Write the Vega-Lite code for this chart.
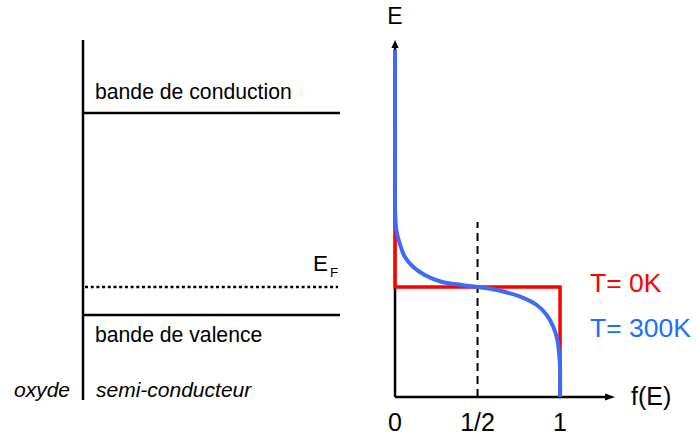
{
  "$schema": "https://vega.github.io/schema/vega-lite/v6.json",
  "width": 697,
  "height": 440,
  "autosize": {"type": "fit", "contains": "padding"},
  "padding": 0,
  "background": "white",
  "config": {"view": {"stroke": null}, "font": "Liberation Sans"},
  "datasets": {
    "left_lines": [
      {"name": "interface", "u": 0, "u2": 0, "E": -0.03, "E2": 3.57},
      {"name": "Ec", "u": 0, "u2": 2.57, "E": 2.84, "E2": 2.84},
      {"name": "Ev", "u": 0, "u2": 2.57, "E": 0.82, "E2": 0.82}
    ],
    "fermi_level": [{"name": "EF", "u": 0.02, "u2": 2.55, "E": 1.1, "E2": 1.1}],
    "band_labels": [
      {"label": "bande de conduction", "u": 0.12, "E": 2.98},
      {"label": "bande de valence", "u": 0.12, "E": 0.555}
    ],
    "semi_label": [{"label": "semi-conducteur", "u": 0.13, "E": 0.005}],
    "oxyde_label": [{"label": "oxyde", "u": -0.13, "E": 0.005}],
    "ef_main": [{"label": "E", "u": 2.3, "E": 1.26}],
    "ef_sub": [{"label": "F", "u": 2.47, "E": 1.2}],
    "axes": [
      {"name": "yaxis", "f": 0, "f2": 0, "E": 0, "E2": 3.49},
      {"name": "xaxis", "f": 0, "f2": 1.285, "E": 0, "E2": 0}
    ],
    "arrow_up": [{"f": 0, "E": 3.53}],
    "arrow_right": [{"f": 1.303, "E": 0}],
    "half": [{"f": 0.5, "E": 0, "E2": 1.75}],
    "t0": [
      {"i": 0, "f": 0, "E": 3.4},
      {"i": 1, "f": 0, "E": 1.1},
      {"i": 2, "f": 1, "E": 1.1},
      {"i": 3, "f": 1, "E": 0}
    ],
    "t300": [
      {"i": 0, "f": 0, "E": 3.47},
      {"i": 1, "f": 0, "E": 2.5},
      {"i": 2, "f": 0.001, "E": 1.84},
      {"i": 3, "f": 0.008, "E": 1.67},
      {"i": 4, "f": 0.028, "E": 1.537},
      {"i": 5, "f": 0.059, "E": 1.403},
      {"i": 6, "f": 0.109, "E": 1.303},
      {"i": 7, "f": 0.18, "E": 1.22},
      {"i": 8, "f": 0.281, "E": 1.153},
      {"i": 9, "f": 0.402, "E": 1.12},
      {"i": 10, "f": 0.5, "E": 1.1},
      {"i": 11, "f": 0.63, "E": 1.065},
      {"i": 12, "f": 0.758, "E": 1.003},
      {"i": 13, "f": 0.859, "E": 0.92},
      {"i": 14, "f": 0.919, "E": 0.82},
      {"i": 15, "f": 0.959, "E": 0.703},
      {"i": 16, "f": 0.984, "E": 0.57},
      {"i": 17, "f": 0.996, "E": 0.403},
      {"i": 18, "f": 1.0, "E": 0.3},
      {"i": 19, "f": 1.0, "E": 0.0}
    ],
    "ticks": [
      {"label": "0", "f": 0, "E": -0.34},
      {"label": "1/2", "f": 0.5, "E": -0.34},
      {"label": "1", "f": 1, "E": -0.34}
    ],
    "e_label": [{"label": "E", "f": 0, "E": 3.73}],
    "fe_label": [{"label": "f(E)", "f": 1.43, "E": -0.08}],
    "legend0": [{"label": "T= 0K", "f": 1.182, "E": 1.053}],
    "legend300": [{"label": "T= 300K", "f": 1.182, "E": 0.603}]
  },
  "layer": [
    {
      "encoding": {
        "x": {"field": "u", "type": "quantitative", "scale": {"domain": [-0.83, 6.14]}, "axis": null},
        "y": {"field": "E", "type": "quantitative", "scale": {"domain": [-0.43, 3.97]}, "axis": null}
      },
      "layer": [
        {
          "data": {"name": "left_lines"},
          "mark": {"type": "rule", "color": "black", "strokeWidth": 2.5},
          "encoding": {"x2": {"field": "u2"}, "y2": {"field": "E2"}}
        },
        {
          "data": {"name": "fermi_level"},
          "mark": {"type": "rule", "color": "black", "strokeWidth": 2.5, "strokeDash": [3, 2.7]},
          "encoding": {"x2": {"field": "u2"}, "y2": {"field": "E2"}}
        },
        {
          "data": {"name": "band_labels"},
          "mark": {"type": "text", "align": "left", "baseline": "alphabetic", "fontSize": 21.2, "color": "black"},
          "encoding": {"text": {"field": "label"}}
        },
        {
          "data": {"name": "semi_label"},
          "mark": {"type": "text", "align": "left", "baseline": "alphabetic", "fontSize": 21, "fontStyle": "italic", "color": "black"},
          "encoding": {"text": {"field": "label"}}
        },
        {
          "data": {"name": "oxyde_label"},
          "mark": {"type": "text", "align": "right", "baseline": "alphabetic", "fontSize": 21, "fontStyle": "italic", "color": "black"},
          "encoding": {"text": {"field": "label"}}
        },
        {
          "data": {"name": "ef_main"},
          "mark": {"type": "text", "align": "left", "baseline": "alphabetic", "fontSize": 22.5, "color": "black"},
          "encoding": {"text": {"field": "label"}}
        },
        {
          "data": {"name": "ef_sub"},
          "mark": {"type": "text", "align": "left", "baseline": "alphabetic", "fontSize": 13.5, "color": "black"},
          "encoding": {"text": {"field": "label"}}
        }
      ]
    },
    {
      "encoding": {
        "x": {"field": "f", "type": "quantitative", "scale": {"domain": [-2.394, 1.83]}, "axis": null},
        "y": {"field": "E", "type": "quantitative", "scale": {"domain": [-0.43, 3.97]}, "axis": null}
      },
      "layer": [
        {
          "data": {"name": "axes"},
          "mark": {"type": "rule", "color": "black", "strokeWidth": 2.5},
          "encoding": {"x2": {"field": "f2"}, "y2": {"field": "E2"}}
        },
        {
          "data": {"name": "arrow_up"},
          "mark": {"type": "point", "shape": "M0,-1L0.9,1L-0.9,1Z", "size": 64, "filled": true, "color": "black", "opacity": 1}
        },
        {
          "data": {"name": "arrow_right"},
          "mark": {"type": "point", "shape": "M1,0L-1,-0.7L-1,0.7Z", "size": 100, "filled": true, "color": "black", "opacity": 1}
        },
        {
          "data": {"name": "half"},
          "mark": {"type": "rule", "color": "black", "strokeWidth": 2, "strokeDash": [8, 5]},
          "encoding": {"y2": {"field": "E2"}}
        },
        {
          "data": {"name": "t0"},
          "mark": {"type": "line", "color": "#FF0000", "strokeWidth": 3.5},
          "encoding": {"order": {"field": "i", "type": "quantitative"}}
        },
        {
          "data": {"name": "t300"},
          "mark": {"type": "line", "color": "#3D6BF7", "strokeWidth": 4, "interpolate": "catmull-rom"},
          "encoding": {"order": {"field": "i", "type": "quantitative"}}
        },
        {
          "data": {"name": "ticks"},
          "mark": {"type": "text", "align": "center", "baseline": "alphabetic", "fontSize": 25, "color": "black"},
          "encoding": {"text": {"field": "label"}}
        },
        {
          "data": {"name": "e_label"},
          "mark": {"type": "text", "align": "center", "baseline": "alphabetic", "fontSize": 23, "color": "black"},
          "encoding": {"text": {"field": "label"}}
        },
        {
          "data": {"name": "fe_label"},
          "mark": {"type": "text", "align": "left", "baseline": "alphabetic", "fontSize": 25, "color": "black"},
          "encoding": {"text": {"field": "label"}}
        },
        {
          "data": {"name": "legend0"},
          "mark": {"type": "text", "align": "left", "baseline": "alphabetic", "fontSize": 26.5, "color": "#FF0000"},
          "encoding": {"text": {"field": "label"}}
        },
        {
          "data": {"name": "legend300"},
          "mark": {"type": "text", "align": "left", "baseline": "alphabetic", "fontSize": 26.5, "color": "#1C6EFF"},
          "encoding": {"text": {"field": "label"}}
        }
      ]
    }
  ],
  "resolve": {"scale": {"x": "independent"}}
}
